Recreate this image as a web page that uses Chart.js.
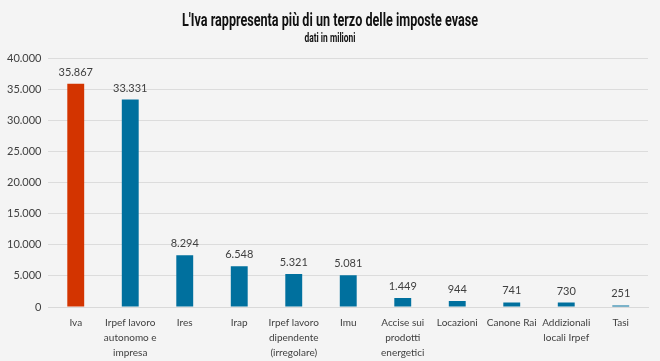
<!DOCTYPE html>
<html>
<head>
<meta charset="utf-8">
<script src="https://cdn.jsdelivr.net/npm/chart.js@4"></script>
<style>
  body { margin: 0; background: #f4f4f4; }
  #wrap { width: 660px; height: 361px; position: relative; }
</style>
</head>
<body>
<div id="wrap"><canvas id="tax_chart"></canvas></div>
<script>
const titleText = "L'Iva rappresenta più di un terzo delle imposte evase";
const subtitleText = "dati in milioni";
const categories = [
  "Iva",
  ["Irpef lavoro", "autonomo e", "impresa"],
  "Ires",
  "Irap",
  ["Irpef lavoro", "dipendente", "(irregolare)"],
  "Imu",
  ["Accise sui", "prodotti", "energetici"],
  "Locazioni",
  "Canone Rai",
  ["Addizionali", "locali Irpef"],
  "Tasi"
];
const evasione = [35867, 33331, 8294, 6548, 5321, 5081, 1449, 944, 741, 730, 251];
const barColors = ["#d33400", "#00709e", "#00709e", "#00709e", "#00709e", "#00709e",
  "#00709e", "#00709e", "#00709e", "#00709e", "#00709e"];

function formatIt(v) {
  return v.toString().replace(/\B(?=(\d{3})+(?!\d))/g, ".");
}

// condensed title, drawn by hand (no narrow font available)
const narrowTitle = {
  id: "narrowTitle",
  afterDraw(chart) {
    let ctx = chart.ctx;
    let cx = chart.width / 2;
    ctx.save();
    ctx.fillStyle = "#111";
    ctx.textAlign = "center";
    ctx.textBaseline = "alphabetic";
    ctx.translate(cx, 0);
    ctx.scale(0.7, 1);
    ctx.font = "bold 18px Roboto";
    ctx.fillText(titleText, 0, 26);
    ctx.font = "bold 12px Roboto";
    ctx.fillText(subtitleText, 0, 42);
    ctx.restore();
  }
};

const valueLabels = {
  id: "valueLabels",
  afterDatasetsDraw(chart) {
    let ctx = chart.ctx;
    let meta = chart.getDatasetMeta(0);
    ctx.save();
    ctx.font = "11px Lato";
    ctx.fillStyle = "#404040";
    ctx.textAlign = "center";
    ctx.textBaseline = "bottom";
    meta.data.forEach((bar, i) => {
      ctx.fillText(formatIt(evasione[i]), bar.x, bar.y - 6);
    });
    ctx.restore();
  }
};

const ctx = document.getElementById("tax_chart");

new Chart(ctx, {
  type: "bar",
  data: {
    labels: categories,
    datasets: [
      {
        label: "Imposte evase",
        data: evasione,
        backgroundColor: barColors,
        categoryPercentage: 1,
        barPercentage: 0.31,
      },
    ],
  },
  options: {
    responsive: true,
    maintainAspectRatio: false,
    animation: false,
    layout: { padding: { left: 0, right: 12, top: 58, bottom: 1 } },
    scales: {
      x: {
        grid: { display: false },
        border: { color: "#d9d9d9" },
        ticks: {
          color: "#404040",
          font: { family: "Lato", size: 10, lineHeight: "15px" },
          maxRotation: 0,
          autoSkip: false,
          padding: 0,
        },
      },
      y: {
        min: 0,
        max: 40000,
        border: { display: false },
        grid: { color: "#dcdcdc", drawTicks: false },
        ticks: {
          stepSize: 5000,
          color: "#404040",
          font: { family: "Lato", size: 11 },
          padding: 7,
          callback: (v) => formatIt(v),
        },
      },
    },
    plugins: {
      legend: false,
      tooltip: { enabled: false },
    },
  },
  plugins: [valueLabels, narrowTitle],
});
</script>
</body>
</html>
